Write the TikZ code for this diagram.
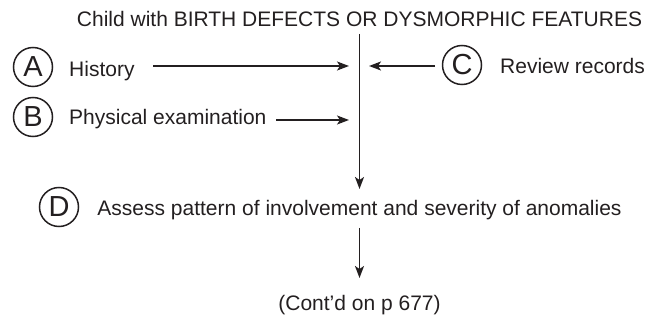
\documentclass[tikz,border=0pt]{standalone}
\usepackage{fontspec}
\setmainfont{Liberation Sans}
\usetikzlibrary{arrows.meta}
\definecolor{ink}{HTML}{231F20}
\begin{document}
\begin{tikzpicture}[x=1pt,y=-1pt,
  txt/.style={inner sep=0pt,anchor=base west,text=ink,font=\fontsize{21}{25}\selectfont},
  ctxt/.style={txt,anchor=base},
  letter/.style={circle,draw=ink,line width=1.5pt,minimum size=39pt,inner sep=0pt,
    text=ink,font=\fontsize{29}{31}\selectfont},
  arr/.style={draw=ink,line width=1.8pt,-{Stealth[length=12pt,width=9pt,inset=3pt]}}]
\useasboundingbox (0,0) rectangle (647,320);

% headline and the main column
\node[ctxt] (title) at (359.5,27) {Child with BIRTH DEFECTS OR DYSMORPHIC FEATURES};
\node[ctxt] (assess) at (359.5,215) {Assess pattern of involvement and severity of anomalies};
\node[ctxt] (contd) at (359.5,310) {(Cont’d on p 677)};

% lettered steps
\node[letter] (cA) at (33,67) {A};
\node[txt] (hist) at (69,77) {History};
\node[letter] (cB) at (33,117) {B};
\node[txt] (phys) at (69,125) {Physical examination};
\node[letter] (cC) at (462,65) {C};
\node[txt] (review) at (500,74) {Review records};
\node[letter] (cD) at (59,207) {D};

% arrow end points on the main column
\coordinate (aFrom) at (153,66);
\coordinate (aTo) at (349,66);
\coordinate (bFrom) at (276,120);
\coordinate (bTo) at (349,120);
\coordinate (cFrom) at (435,66);
\coordinate (cTo) at (369,66);

% connectors
\draw[arr,shorten <=7pt,shorten >=26pt] (title.base) -- (assess.base);
\draw[arr,shorten <=13pt,shorten >=32pt] (assess.base) -- (contd.base);
\draw[arr] (aFrom) -- (aTo);
\draw[arr] (bFrom) -- (bTo);
\draw[arr] (cFrom) -- (cTo);
\end{tikzpicture}
\end{document}
